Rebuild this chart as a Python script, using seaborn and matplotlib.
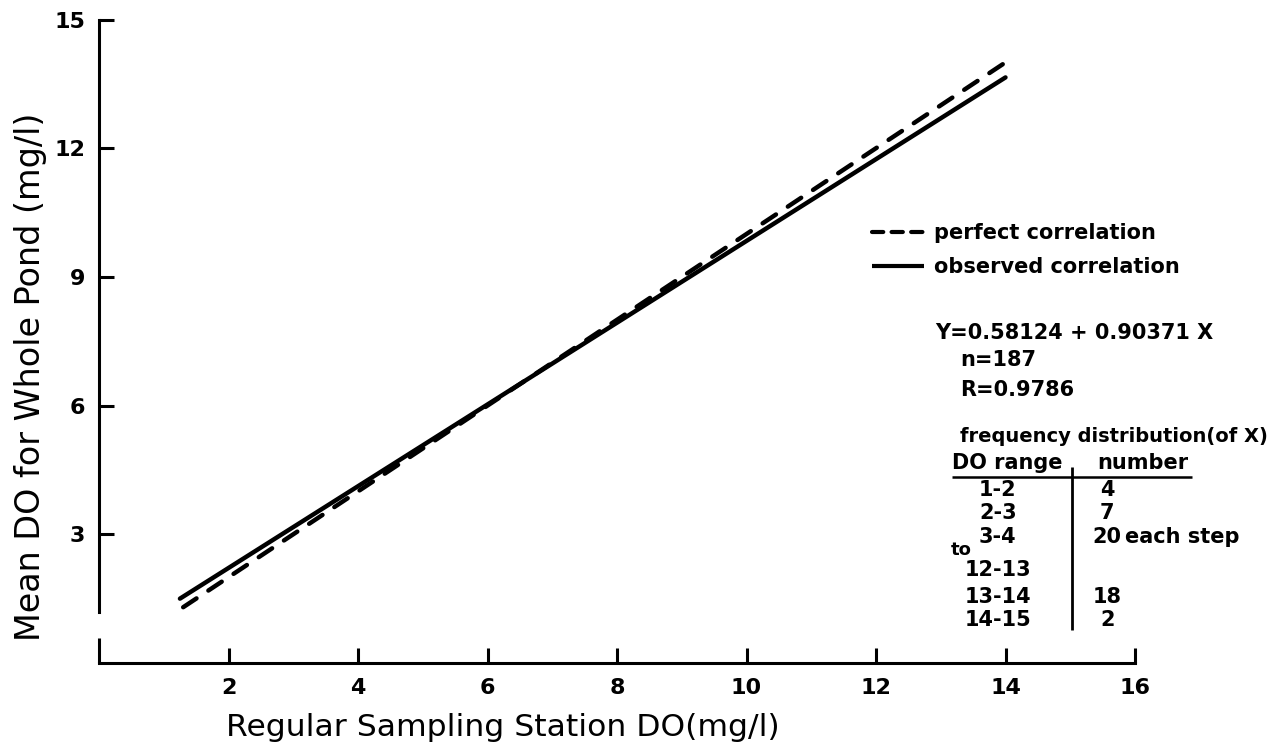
import matplotlib
matplotlib.use("Agg")
import matplotlib.pyplot as plt
from matplotlib.lines import Line2D
import pandas as pd
import seaborn as sns

# Whole-pond mean DO against regular sampling station DO (mg/l)
perfect_x = [1.3, 14.0]
perfect_y = [1.3, 14.0]
observed_x = [1.25, 14.0]
observed_y = [1.50, 13.65]

series_labels = ["perfect correlation", "observed correlation"]

x_ticks = [2, 4, 6, 8, 10, 12, 14, 16]
y_ticks = [3, 6, 9, 12, 15]

# regression summary
equation_text = "Y=0.58124 + 0.90371 X"
n_text = "n=187"
r_text = "R=0.9786"

# frequency distribution of X
freq_title = "frequency distribution(of X)"
range_header = "DO range"
count_header = "number"
do_ranges = ["1-2", "2-3", "3-4", "12-13", "13-14", "14-15"]
range_counts = ["4", "7", "20", "", "18", "2"]
count_note = "each step"
skip_word = "to"

sns.set_theme(style="ticks")
plt.rcParams["font.family"] = ["DejaVu Sans"]
plt.rcParams["axes.edgecolor"] = "black"
plt.rcParams["text.color"] = "black"
plt.rcParams["axes.labelcolor"] = "black"
plt.rcParams["xtick.color"] = "black"
plt.rcParams["ytick.color"] = "black"

fig = plt.figure(figsize=(12.84, 7.49), dpi=100)
fig.patch.set_facecolor("white")
ax = fig.add_axes([99 / 1284, 86 / 749, 1036 / 1284, 643.5 / 749])
ax.set_facecolor("white")

perfect_df = pd.DataFrame({"x": perfect_x, "y": perfect_y})
observed_df = pd.DataFrame({"x": observed_x, "y": observed_y})

sns.lineplot(data=perfect_df, x="x", y="y", ax=ax, color="black",
             linewidth=3.2, linestyle=(0, (3.6, 3.2)),
             dash_capstyle="round", estimator=None, sort=False)
sns.lineplot(data=observed_df, x="x", y="y", ax=ax, color="black",
             linewidth=3.2, solid_capstyle="round",
             estimator=None, sort=False)

ax.set_xlim(0, 16)
ax.set_ylim(0, 15)

# axes frame: open style, y axis stops short of the x axis
sns.despine(ax=ax)
for side in ("left", "bottom"):
    ax.spines[side].set_linewidth(2.2)
    ax.spines[side].set_color("black")
ax.spines["left"].set_bounds(1.2, 15)
ax.spines["bottom"].set_bounds(0, 16)
ax.axvline(0, ymin=0, ymax=0.58 / 15, color="black", lw=2.2,
           solid_capstyle="butt", clip_on=False)

ax.set_xticks(x_ticks)
ax.set_xticklabels([str(t) for t in x_ticks])
ax.set_yticks(y_ticks)
ax.set_yticklabels([str(t) for t in y_ticks])
ax.tick_params(axis="both", direction="in", length=10.8, width=2.2,
               colors="black", labelsize=16)
ax.tick_params(axis="x", pad=11)
ax.tick_params(axis="y", pad=10)
for lab in ax.get_xticklabels() + ax.get_yticklabels():
    lab.set_fontweight("bold")

ax.set_xlabel("Regular Sampling Station DO(mg/l)", fontsize=22.6,
              color="black")
ax.xaxis.set_label_coords(0.39, -0.078)
ax.set_ylabel("Mean DO for Whole Pond (mg/l)", fontsize=24, color="black")
ax.yaxis.set_label_coords(-0.050, 0.444)

# legend with short-dash sample
handles = [
    Line2D([], [], color="black", lw=3.0, dashes=(2.7, 2.0),
           dash_capstyle="round"),
    Line2D([], [], color="black", lw=3.0, solid_capstyle="butt"),
]
ax.legend(handles=handles, labels=series_labels, loc="upper left",
          bbox_to_anchor=(0.746, 0.684), frameon=False, borderpad=0,
          borderaxespad=0, handlelength=2.5, handletextpad=0.5,
          labelspacing=0.7, labelcolor="black",
          prop={"weight": "bold", "size": 15})

txt = dict(fontsize=15, fontweight="bold", color="black", va="center")

# regression summary
ax.text(12.91, 7.69, equation_text, ha="left", **txt)
ax.text(13.30, 7.06, n_text, ha="left", **txt)
ax.text(13.30, 6.36, r_text, ha="left", **txt)

# frequency table
ax.text(13.30, 5.27, freq_title, ha="left",
        **{**txt, "fontsize": 14})
ax.text(13.17, 4.66, range_header, ha="left", **txt)
ax.text(15.41, 4.66, count_header, ha="left", **txt)
ax.hlines(4.34, 13.17, 16.88, color="black", lw=1.8, clip_on=False)
ax.vlines(15.03, 0.77, 4.57, color="black", lw=2.0, clip_on=False)

row_y = [4.03, 3.50, 2.94, 2.17, 1.54, 1.00]
for yy, rng, cnt in zip(row_y, do_ranges, range_counts):
    ax.text(13.88, yy, rng, ha="center", **txt)
    if cnt:
        ax.text(15.57, yy, cnt, ha="center", **txt)
ax.text(15.85, row_y[2], count_note, ha="left", **txt)
ax.text(13.16, 2.63, skip_word, ha="left", **{**txt, "fontsize": 13})

fig.savefig("out.png", dpi=100, facecolor="white")
